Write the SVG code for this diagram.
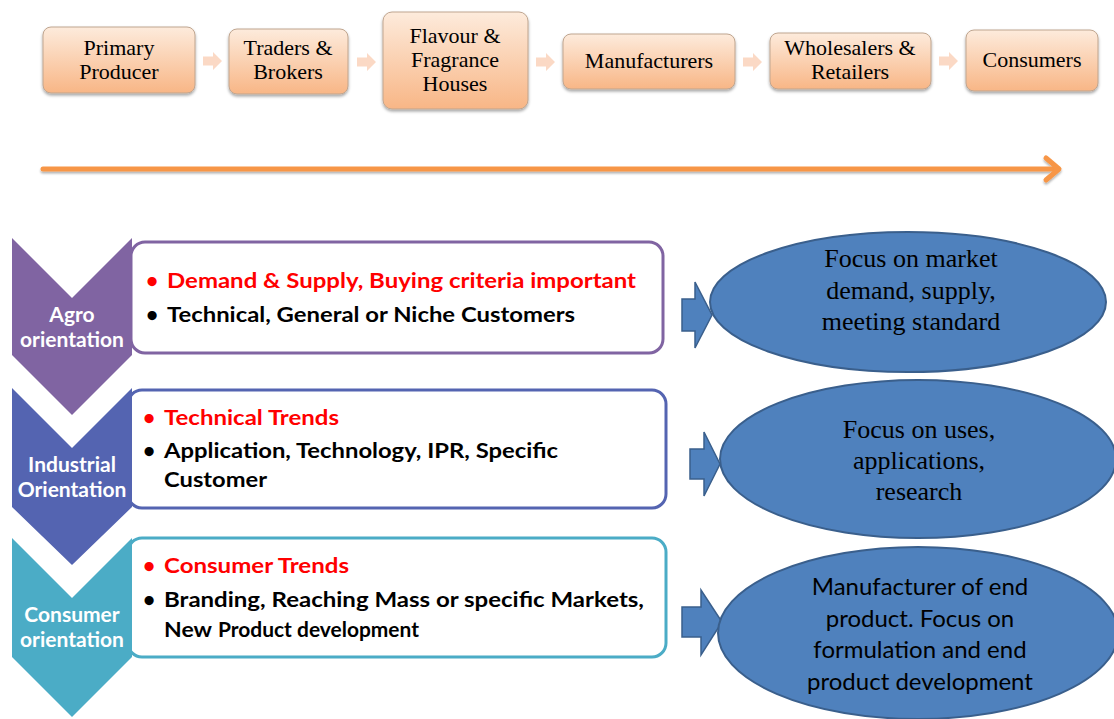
<svg xmlns="http://www.w3.org/2000/svg" width="1114" height="719" viewBox="0 0 1114 719">
  <defs>
    <linearGradient id="peach" x1="0" y1="0" x2="0" y2="1">
      <stop offset="0" stop-color="#FDEBDC"/>
      <stop offset="1" stop-color="#F8B686"/>
    </linearGradient>
    <filter id="shadow" x="-10%" y="-10%" width="120%" height="140%">
      <feDropShadow dx="0" dy="2" stdDeviation="1.5" flood-color="#000" flood-opacity="0.35"/>
    </filter>
    <filter id="lineShadow" x="-2%" y="-100%" width="104%" height="300%">
      <feDropShadow dx="0" dy="2" stdDeviation="1.2" flood-color="#000" flood-opacity="0.3"/>
    </filter>
    <path id="step" d="M0,-4.5 H10 V-9 L19,0 L10,9 V4.5 H0 Z"/>
  </defs>
  <style>
    .box { fill: url(#peach); stroke: #BFA58F; stroke-width: 1; filter: url(#shadow); }
    .boxText { font-family: "Liberation Serif", "Times New Roman", serif; font-size: 22px; fill: #000; text-anchor: middle; }
    .step { fill: #FBD9C5; }
    .chevLabel { font-family: Lato, "Liberation Sans", sans-serif; font-weight: bold; font-size: 21px; fill: #fff; text-anchor: middle; }
    .panel { fill: #fff; stroke-width: 3; }
    .bullet { font-family: Lato, "Liberation Sans", sans-serif; font-weight: bold; font-size: 21px; }
    .red { fill: #FF0000; }
    .black { fill: #000; }
    .oval { fill: #4F81BD; stroke: #3A5F8C; stroke-width: 2; }
    .ovalSerif { font-family: "Liberation Serif", "Times New Roman", serif; font-size: 26px; fill: #000; text-anchor: middle; }
    .ovalSans { font-family: Lato, "Liberation Sans", sans-serif; font-size: 24px; fill: #000; text-anchor: middle; }
    .blockArrow { fill: #4F81BD; stroke: #3A5F8C; stroke-width: 1.5; }
  </style>

  <rect width="1114" height="719" fill="#fff"/>

  <!-- supply chain -->
  <g id="primary-producer">
    <rect class="box" x="43" y="27" width="152" height="66" rx="8"/>
    <text class="boxText" x="119" y="55">Primary</text>
    <text class="boxText" x="119" y="79">Producer</text>
  </g>
  <g id="traders-brokers">
    <rect class="box" x="229" y="29" width="119" height="65" rx="8"/>
    <text class="boxText" x="288" y="55">Traders &amp;</text>
    <text class="boxText" x="288" y="79">Brokers</text>
  </g>
  <g id="flavour-fragrance">
    <rect class="box" x="383" y="12" width="145" height="97" rx="9"/>
    <text class="boxText" x="455" y="43">Flavour &amp;</text>
    <text class="boxText" x="455" y="67">Fragrance</text>
    <text class="boxText" x="455" y="91">Houses</text>
  </g>
  <g id="manufacturers">
    <rect class="box" x="563" y="34" width="172" height="55" rx="8"/>
    <text class="boxText" x="649" y="68">Manufacturers</text>
  </g>
  <g id="wholesalers-retailers">
    <rect class="box" x="770" y="33" width="161" height="56" rx="8"/>
    <text class="boxText" x="850" y="55">Wholesalers &amp;</text>
    <text class="boxText" x="850" y="79">Retailers</text>
  </g>
  <g id="consumers">
    <rect class="box" x="966" y="30" width="132" height="61" rx="8"/>
    <text class="boxText" x="1032" y="67">Consumers</text>
  </g>

  <g id="connectors">
    <use href="#step" class="step" x="203" y="61"/>
    <use href="#step" class="step" x="357" y="62"/>
    <use href="#step" class="step" x="536" y="62"/>
    <use href="#step" class="step" x="743" y="62"/>
    <use href="#step" class="step" x="939" y="61"/>
    <g filter="url(#lineShadow)" stroke="#F79646" stroke-width="5" fill="none" stroke-linecap="round" stroke-linejoin="round">
      <line x1="43" y1="169" x2="1058" y2="169"/>
      <polyline points="1046,158 1059,169 1046,180"/>
    </g>
    <polygon class="blockArrow" points="682,299 695,299 695,282 712,315 695,348 695,331 682,331"/>
    <polygon class="blockArrow" points="690,449 704,449 704,432 720,464 704,496 704,479 690,479"/>
    <polygon class="blockArrow" points="682,607 701,607 701,590 722,622 701,655 701,637 682,637"/>
  </g>

  <!-- agro -->
  <g id="agro">
    <rect class="panel" x="131" y="242" width="532" height="111" rx="14" stroke="#8064A2"/>
    <polygon points="12,238 72,298 132,238 132,355 72,415 12,355" fill="#8064A2"/>
    <text class="chevLabel" x="72" y="322">Agro</text>
    <text class="chevLabel" x="72" y="347">orientation</text>
    <text class="bullet red" x="146" y="288">•</text>
    <text class="bullet red" x="167" y="288" textLength="469" lengthAdjust="spacingAndGlyphs">Demand &amp; Supply, Buying criteria important</text>
    <text class="bullet black" x="146" y="322">•</text>
    <text class="bullet black" x="167" y="322" textLength="408" lengthAdjust="spacingAndGlyphs">Technical, General or Niche Customers</text>
  </g>

  <!-- industrial -->
  <g id="industrial">
    <rect class="panel" x="128" y="390" width="538" height="118" rx="14" stroke="#5464B1"/>
    <polygon points="12,388 72,448 132,388 132,507 72,565 12,507" fill="#5464B1"/>
    <text class="chevLabel" x="72" y="472">Industrial</text>
    <text class="chevLabel" x="72" y="497">Orientation</text>
    <text class="bullet red" x="143" y="425">•</text>
    <text class="bullet red" x="164" y="425" textLength="175" lengthAdjust="spacingAndGlyphs">Technical Trends</text>
    <text class="bullet black" x="143" y="458">•</text>
    <text class="bullet black" x="164" y="458" textLength="394" lengthAdjust="spacingAndGlyphs">Application, Technology, IPR, Specific</text>
    <text class="bullet black" x="164" y="487" textLength="103" lengthAdjust="spacingAndGlyphs">Customer</text>
  </g>

  <!-- consumer -->
  <g id="consumer">
    <rect class="panel" x="128" y="538" width="538" height="119" rx="14" stroke="#4BACC6"/>
    <polygon points="12,538 72,598 132,538 132,657 72,717 12,657" fill="#4BACC6"/>
    <text class="chevLabel" x="72" y="622">Consumer</text>
    <text class="chevLabel" x="72" y="647">orientation</text>
    <text class="bullet red" x="143" y="573">•</text>
    <text class="bullet red" x="164" y="573" textLength="185" lengthAdjust="spacingAndGlyphs">Consumer Trends</text>
    <text class="bullet black" x="143" y="607">•</text>
    <text class="bullet black" x="164" y="607" textLength="480" lengthAdjust="spacingAndGlyphs">Branding, Reaching Mass or specific Markets,</text>
    <text class="bullet black" x="164" y="637" textLength="48" lengthAdjust="spacingAndGlyphs">New</text>
    <text class="bullet black" x="218" y="637" font-size="19px" textLength="201" lengthAdjust="spacingAndGlyphs">Product development</text>
  </g>

  <!-- outcomes -->
  <g id="focus-market">
    <ellipse class="oval" cx="908" cy="302" rx="198" ry="70"/>
    <text class="ovalSerif" x="911" y="267">Focus on market</text>
    <text class="ovalSerif" x="911" y="299">demand, supply,</text>
    <text class="ovalSerif" x="911" y="330">meeting standard</text>
  </g>
  <g id="focus-uses">
    <ellipse class="oval" cx="918" cy="459" rx="198" ry="79"/>
    <text class="ovalSerif" x="919" y="438">Focus on uses,</text>
    <text class="ovalSerif" x="919" y="469">applications,</text>
    <text class="ovalSerif" x="919" y="500">research</text>
  </g>
  <g id="end-product">
    <ellipse class="oval" cx="918" cy="633" rx="200" ry="86"/>
    <text class="ovalSans" x="920" y="595">Manufacturer of end</text>
    <text class="ovalSans" x="920" y="627">product. Focus on</text>
    <text class="ovalSans" x="920" y="658">formulation and end</text>
    <text class="ovalSans" x="920" y="690">product development</text>
  </g>
</svg>
